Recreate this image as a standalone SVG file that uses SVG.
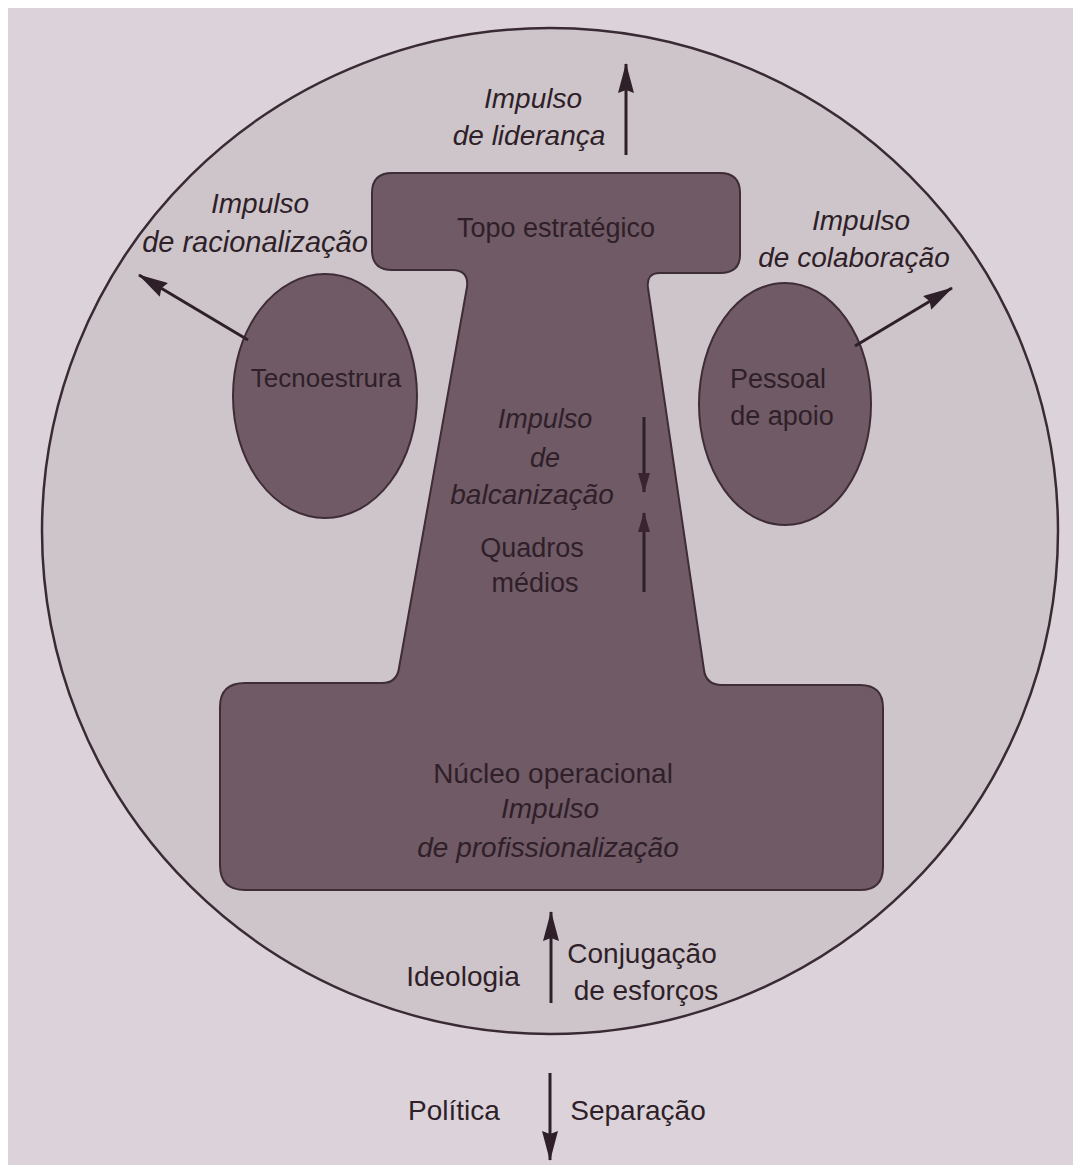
<svg xmlns="http://www.w3.org/2000/svg" width="1073" height="1171" viewBox="0 0 1073 1171">
<defs>
<style>
.t{font-family:"Liberation Sans",Arial,sans-serif;fill:#2f1f29;text-anchor:middle}
.i{font-style:italic}
.shape{fill:#6f5a65;stroke:#3e2c37;stroke-width:2}
.conn{stroke:#2e1f29;stroke-width:3;fill:none}
</style>
<marker id="ah" viewBox="0 0 30 16" refX="29" refY="8" markerWidth="30" markerHeight="16" orient="auto" markerUnits="userSpaceOnUse">
<path d="M0,0 L30,8 L0,16 L3,8 Z" fill="#2e1f29"/>
</marker>
<marker id="ahs" viewBox="0 0 20 12" refX="19" refY="6" markerWidth="20" markerHeight="12" orient="auto" markerUnits="userSpaceOnUse">
<path d="M0,0 L20,6 L0,12 Z" fill="#3a2430"/>
</marker>
</defs>
<rect x="0" y="0" width="1073" height="1171" fill="#ffffff"/>
<rect x="8" y="8" width="1065" height="1157" fill="#dcd3da"/>
<ellipse id="boundary" cx="550" cy="531" rx="508" ry="503" fill="#cec5cb" stroke="#3a2a34" stroke-width="2.5"/>

<g id="structure">
<path class="shape" d="M392,173 H720 Q740,173 740,193 V255 Q740,273 720,273 H660 Q646,273 648,288 L704,670 Q706,685 722,685 H860 Q883,685 883,708 V867 Q883,890 860,890 H245 Q220,890 220,865 V707 Q220,683 245,683 H382 Q397,683 399,668 L467,287 Q469,270 452,270 H392 Q372,270 372,250 V193 Q372,173 392,173 Z"/>
</g>
<g id="topo">
<text class="t" x="556" y="237" font-size="27">Topo estratégico</text>
</g>
<g id="quadros">
<text class="t i" x="545" y="428" font-size="27" fill="#4a2634">Impulso</text>
<text class="t i" x="545" y="467" font-size="27">de</text>
<text class="t i" x="532" y="504" font-size="28">balcanização</text>
<text class="t" x="532" y="557" font-size="27">Quadros</text>
<text class="t" x="535" y="592" font-size="27">médios</text>
</g>
<g id="nucleo">
<text class="t" x="553" y="783" font-size="28">Núcleo operacional</text>
<text class="t i" x="550" y="818" font-size="28">Impulso</text>
<text class="t i" x="548" y="857" font-size="28">de profissionalização</text>
</g>
<g id="tecnoestrutura">
<ellipse class="shape" cx="325" cy="396" rx="92" ry="122" fill="#725e69"/>
<text class="t" x="326" y="387" font-size="26">Tecnoestrura</text>
</g>
<g id="pessoal">
<ellipse class="shape" cx="785" cy="404" rx="86" ry="121" fill="#7a6670"/>
<text class="t" x="778" y="388" font-size="27">Pessoal</text>
<text class="t" x="782" y="425" font-size="27">de apoio</text>
</g>

<g id="labels">
<text class="t i" x="533" y="108" font-size="28">Impulso</text>
<text class="t i" x="529" y="145" font-size="28">de liderança</text>
<text class="t i" x="260" y="213" font-size="28">Impulso</text>
<text class="t i" x="255" y="252" font-size="29">de racionalização</text>
<text class="t i" x="861" y="230" font-size="28">Impulso</text>
<text class="t i" x="854" y="267" font-size="28">de colaboração</text>
<text class="t" x="463" y="986" font-size="28">Ideologia</text>
<text class="t" x="642" y="963" font-size="28">Conjugação</text>
<text class="t" x="646" y="1000" font-size="28">de esforços</text>
<text class="t" x="454" y="1120" font-size="28">Política</text>
<text class="t" x="638" y="1120" font-size="28">Separação</text>
</g>

<g id="connectors">
<line class="conn" x1="626" y1="155" x2="626" y2="64" marker-end="url(#ah)"/>
<line class="conn" x1="248" y1="340" x2="139" y2="275" marker-end="url(#ah)"/>
<line class="conn" x1="855" y1="346" x2="952" y2="288" marker-end="url(#ah)"/>
<line class="conn" stroke-width="2" x1="644" y1="417" x2="644" y2="492" marker-end="url(#ahs)" stroke="#3a2430"/>
<line class="conn" stroke-width="2" x1="644" y1="592" x2="644" y2="513" marker-end="url(#ahs)" stroke="#3a2430"/>
<line class="conn" x1="551" y1="1003" x2="551" y2="912" marker-end="url(#ah)"/>
<line class="conn" x1="550" y1="1073" x2="550" y2="1160" marker-end="url(#ah)"/>
</g>
</svg>
